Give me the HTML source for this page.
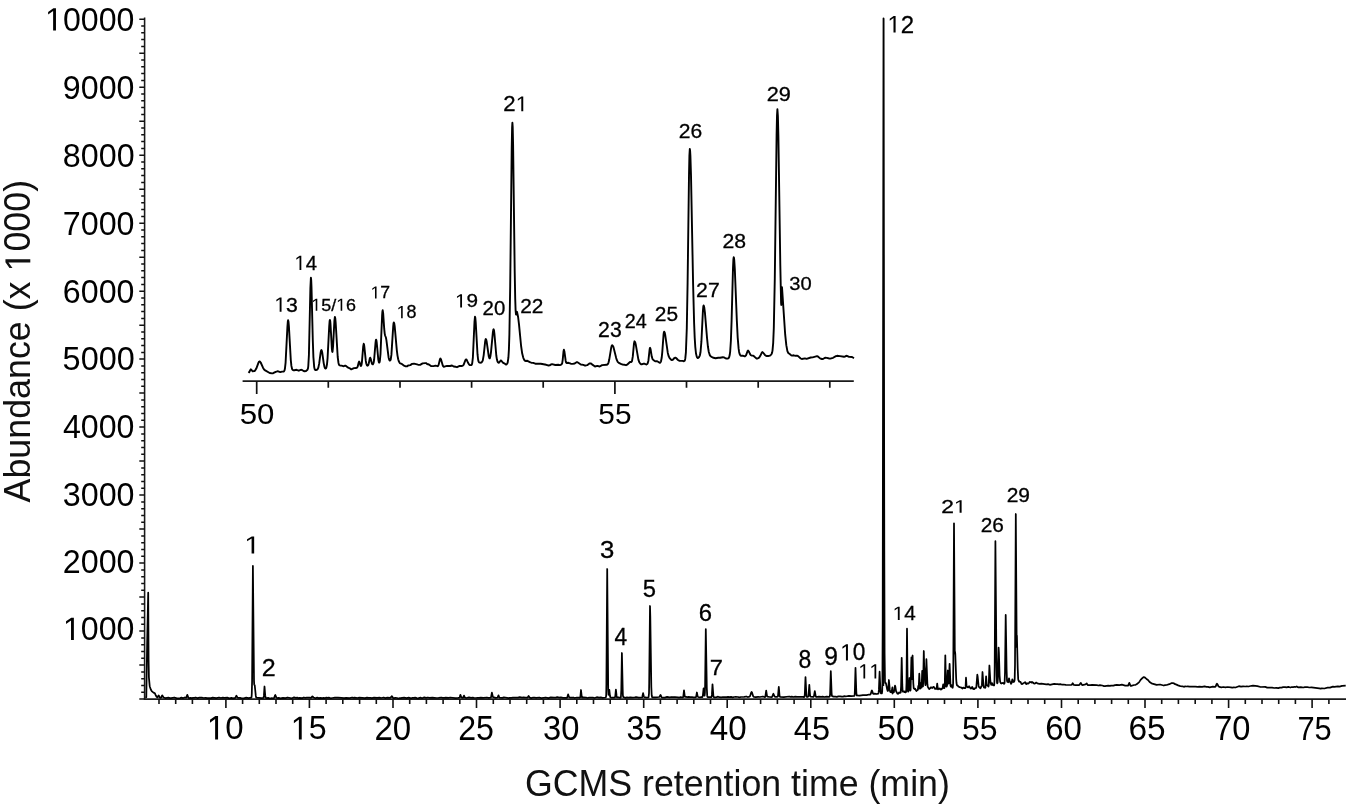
<!DOCTYPE html><html><head><meta charset="utf-8"><style>html,body{margin:0;padding:0;background:#fff;}svg{display:block;will-change:transform;}</style></head><body><svg width="1350" height="806" viewBox="0 0 1350 806">
<rect width="1350" height="806" fill="#fff"/>
<g stroke="#1a1a1a" stroke-width="1.55" fill="none">
<line x1="144.6" y1="17.6" x2="144.6" y2="699.8"/>
<line x1="143.79999999999998" y1="699.1" x2="1346" y2="699.1"/>
</g>
<path d="M139.3,699.0H144.6M141.2,692.3H144.6M141.2,685.5H144.6M141.2,678.7H144.6M141.2,671.9H144.6M139.3,665.1H144.6M141.2,658.3H144.6M141.2,651.5H144.6M141.2,644.7H144.6M141.2,637.9H144.6M139.3,631.1H144.6M141.2,624.3H144.6M141.2,617.5H144.6M141.2,610.7H144.6M141.2,603.9H144.6M139.3,597.1H144.6M141.2,590.3H144.6M141.2,583.5H144.6M141.2,576.7H144.6M141.2,569.9H144.6M139.3,563.1H144.6M141.2,556.3H144.6M141.2,549.5H144.6M141.2,542.7H144.6M141.2,535.9H144.6M139.3,529.1H144.6M141.2,522.3H144.6M141.2,515.5H144.6M141.2,508.7H144.6M141.2,501.9H144.6M139.3,495.1H144.6M141.2,488.3H144.6M141.2,481.5H144.6M141.2,474.7H144.6M141.2,467.9H144.6M139.3,461.1H144.6M141.2,454.3H144.6M141.2,447.5H144.6M141.2,440.7H144.6M141.2,433.9H144.6M139.3,427.1H144.6M141.2,420.3H144.6M141.2,413.5H144.6M141.2,406.7H144.6M141.2,399.9H144.6M139.3,393.1H144.6M141.2,386.3H144.6M141.2,379.5H144.6M141.2,372.7H144.6M141.2,365.9H144.6M139.3,359.1H144.6M141.2,352.4H144.6M141.2,345.6H144.6M141.2,338.8H144.6M141.2,332.0H144.6M139.3,325.2H144.6M141.2,318.4H144.6M141.2,311.6H144.6M141.2,304.8H144.6M141.2,298.0H144.6M139.3,291.2H144.6M141.2,284.4H144.6M141.2,277.6H144.6M141.2,270.8H144.6M141.2,264.0H144.6M139.3,257.2H144.6M141.2,250.4H144.6M141.2,243.6H144.6M141.2,236.8H144.6M141.2,230.0H144.6M139.3,223.2H144.6M141.2,216.4H144.6M141.2,209.6H144.6M141.2,202.8H144.6M141.2,196.0H144.6M139.3,189.2H144.6M141.2,182.4H144.6M141.2,175.6H144.6M141.2,168.8H144.6M141.2,162.0H144.6M139.3,155.2H144.6M141.2,148.4H144.6M141.2,141.6H144.6M141.2,134.8H144.6M141.2,128.0H144.6M139.3,121.2H144.6M141.2,114.4H144.6M141.2,107.6H144.6M141.2,100.8H144.6M141.2,94.0H144.6M139.3,87.2H144.6M141.2,80.4H144.6M141.2,73.6H144.6M141.2,66.8H144.6M141.2,60.0H144.6M139.3,53.2H144.6M141.2,46.4H144.6M141.2,39.6H144.6M141.2,32.8H144.6M141.2,26.0H144.6M139.3,19.2H144.6" stroke="#111" stroke-width="1.5" fill="none"/>
<path d="M159.0,699.1V704.1M175.7,699.1V704.1M192.4,699.1V704.1M209.1,699.1V704.1M225.9,699.1V708.1M242.6,699.1V704.1M259.3,699.1V704.1M276.0,699.1V704.1M292.7,699.1V704.1M309.4,699.1V708.1M326.1,699.1V704.1M342.8,699.1V704.1M359.6,699.1V704.1M376.3,699.1V704.1M393.0,699.1V708.1M409.7,699.1V704.1M426.4,699.1V704.1M443.1,699.1V704.1M459.8,699.1V704.1M476.5,699.1V708.1M493.3,699.1V704.1M510.0,699.1V704.1M526.7,699.1V704.1M543.4,699.1V704.1M560.1,699.1V708.1M576.8,699.1V704.1M593.5,699.1V704.1M610.2,699.1V704.1M626.9,699.1V704.1M643.7,699.1V708.1M660.4,699.1V704.1M677.1,699.1V704.1M693.8,699.1V704.1M710.5,699.1V704.1M727.2,699.1V708.1M743.9,699.1V704.1M760.6,699.1V704.1M777.4,699.1V704.1M794.1,699.1V704.1M810.8,699.1V708.1M827.5,699.1V704.1M844.2,699.1V704.1M860.9,699.1V704.1M877.6,699.1V704.1M894.3,699.1V708.1M911.1,699.1V704.1M927.8,699.1V704.1M944.5,699.1V704.1M961.2,699.1V704.1M977.9,699.1V708.1M994.6,699.1V704.1M1011.3,699.1V704.1M1028.0,699.1V704.1M1044.7,699.1V704.1M1061.5,699.1V708.1M1078.2,699.1V704.1M1094.9,699.1V704.1M1111.6,699.1V704.1M1128.3,699.1V704.1M1145.0,699.1V708.1M1161.7,699.1V704.1M1178.4,699.1V704.1M1195.2,699.1V704.1M1211.9,699.1V704.1M1228.6,699.1V708.1M1245.3,699.1V704.1M1262.0,699.1V704.1M1278.7,699.1V704.1M1295.4,699.1V704.1M1312.1,699.1V708.1M1328.9,699.1V704.1" stroke="#111" stroke-width="1.6" fill="none"/>
<path d="M145.3,697.6 146.3,697.2 147.2,640.0 148.2,592.7 148.6,660.0 148.9,677.3 149.7,686.2 150.8,689.5 151.9,691.4 153.5,692.6 154.9,693.3 155.8,695.5 156.6,696.8 157.5,697.4 158.4,695.7 158.7,695.5 159.8,697.5 160.3,697.8 160.8,697.8 161.3,697.4 162.0,695.7 162.3,695.4 163.6,697.5 165.6,698.1 168.4,697.7 170.1,698.1 171.1,698.2 174.3,697.5 177.1,698.3 180.1,698.1 181.4,697.7 182.9,698.2 184.5,697.5 186.2,697.6 187.3,694.8 188.3,697.6 188.6,698.0 189.1,698.1 190.5,697.9 191.9,698.1 193.1,697.8 194.2,697.8 195.6,697.5 197.7,698.1 199.4,697.7 201.8,697.6 203.7,698.0 205.5,697.8 207.3,698.2 209.8,698.0 211.1,698.1 212.6,697.6 214.5,697.8 216.2,698.1 219.0,697.5 220.8,698.0 222.8,697.6 224.5,697.8 227.3,697.7 229.3,698.3 231.4,697.9 233.1,698.4 235.3,697.8 236.4,695.7 237.4,697.4 238.0,697.8 239.9,697.8 241.3,698.1 243.7,698.3 246.2,697.7 248.6,698.2 251.4,697.7 251.6,696.7 251.8,693.5 252.1,680.8 252.9,565.9 254.0,680.7 254.2,684.4 254.3,684.9 254.7,685.2 254.8,686.0 255.8,695.9 256.1,697.3 256.6,697.7 261.5,698.1 263.5,697.8 263.9,695.9 264.5,686.5 265.2,695.4 265.6,697.5 265.9,697.9 266.6,698.1 268.2,697.9 269.9,698.5 271.7,698.2 273.1,698.3 273.8,698.1 274.3,697.5 275.0,695.4 275.3,695.0 276.2,697.2 276.9,698.0 277.5,698.2 278.8,697.9 280.3,698.3 283.0,697.8 285.5,698.2 287.5,697.5 291.9,698.3 294.1,697.4 295.7,697.8 297.2,697.7 298.4,698.1 299.7,697.9 302.3,698.1 303.8,697.5 305.3,697.9 306.8,697.7 309.5,697.7 310.7,697.9 311.2,697.7 312.4,696.4 313.6,697.5 315.5,698.3 317.2,697.6 318.7,698.1 320.3,697.8 322.2,698.1 323.6,697.9 324.8,698.2 326.3,697.6 327.6,697.8 328.8,697.6 330.6,698.3 332.2,698.0 334.9,697.7 338.0,697.6 341.5,697.8 344.1,698.2 346.1,697.8 349.6,698.1 352.1,697.5 353.4,697.8 354.6,697.6 357.4,698.0 359.2,697.7 365.1,698.2 367.0,697.6 368.5,697.9 370.5,697.8 371.9,698.1 374.1,697.6 377.1,697.9 379.5,697.7 381.2,698.0 383.7,697.5 385.4,698.1 387.3,697.7 390.2,697.9 390.7,697.6 391.7,696.2 392.1,696.4 392.9,697.8 393.4,698.1 393.9,698.2 395.5,697.8 397.0,698.0 398.4,698.5 399.8,698.1 400.9,698.1 402.1,697.8 404.1,697.7 406.6,698.2 408.7,697.7 411.1,698.4 412.7,697.8 414.1,697.9 415.1,697.7 416.8,698.2 418.0,698.3 420.5,697.6 422.1,698.2 424.3,697.4 426.0,697.8 427.8,697.5 429.6,697.9 432.4,697.6 436.6,698.0 438.6,697.9 441.1,697.5 442.7,697.9 444.2,697.9 445.8,697.7 448.6,697.8 450.2,697.5 455.4,698.1 457.8,698.0 459.4,697.7 459.7,697.1 460.4,694.8 461.3,697.3 462.9,697.8 463.3,697.5 464.0,695.6 464.9,697.7 466.4,698.0 469.0,697.4 471.1,697.8 472.6,697.6 474.0,697.9 476.0,698.0 477.4,697.8 479.0,697.8 480.8,697.6 483.2,697.9 486.9,697.5 488.5,697.8 490.7,697.6 491.0,697.3 491.9,692.6 492.9,697.0 495.7,697.9 497.6,697.5 498.5,695.3 499.2,697.2 499.6,697.6 502.4,697.9 503.9,697.4 505.4,697.5 508.4,698.2 509.8,697.8 511.4,697.9 513.0,697.6 518.0,697.7 519.7,697.2 522.0,697.7 523.6,697.4 525.3,697.7 527.2,697.7 527.7,697.4 528.6,696.0 529.8,697.7 531.2,698.1 533.2,697.5 534.5,697.5 536.0,697.8 539.2,697.5 541.3,698.1 545.7,697.5 548.4,698.1 550.8,697.4 554.1,697.6 555.8,697.6 557.2,697.2 559.2,697.7 560.9,697.3 562.9,697.8 566.7,697.8 567.1,697.7 567.3,697.3 568.1,694.4 568.9,696.7 569.3,697.3 570.5,697.7 573.4,697.5 574.7,698.0 576.8,697.5 578.5,697.5 579.8,697.8 580.1,697.6 580.4,696.5 581.0,690.0 581.7,696.4 582.1,697.6 583.3,697.4 586.1,697.6 587.6,698.0 589.0,697.7 592.9,697.6 594.6,698.0 596.8,697.2 599.0,697.7 600.8,697.4 602.6,697.9 605.7,697.5 606.0,696.8 606.2,694.8 606.4,683.7 607.2,569.0 608.2,689.7 608.5,694.7 608.5,694.8 608.6,694.6 609.1,690.4 609.3,689.9 610.0,696.0 610.2,697.0 610.6,697.3 611.5,697.6 614.0,697.7 614.9,697.5 615.3,696.1 615.9,689.6 616.6,695.9 616.9,697.2 617.2,697.4 618.6,697.4 620.3,697.8 620.7,697.7 620.9,697.2 621.3,689.7 621.9,653.0 622.7,689.6 622.9,695.3 623.2,697.0 623.5,697.2 625.5,697.8 626.9,697.4 628.2,697.6 630.4,697.3 632.4,697.7 634.8,697.4 636.1,697.1 638.8,697.6 641.8,697.4 642.1,697.3 642.3,696.8 643.1,693.1 643.8,696.3 644.2,697.1 646.6,697.6 648.1,697.5 648.6,697.2 649.0,693.4 649.2,682.6 650.0,606.0 650.3,616.6 651.3,686.7 651.7,695.2 652.0,696.9 652.4,697.4 653.9,697.3 655.2,697.4 659.1,697.0 659.6,696.6 660.5,694.9 660.8,695.3 661.5,697.2 662.1,697.7 664.8,697.6 667.1,696.9 669.5,697.4 671.5,697.0 673.5,697.2 675.0,697.0 678.0,697.3 679.1,697.6 680.7,697.2 682.8,697.5 683.1,697.2 683.3,696.5 684.0,690.4 684.7,695.9 685.1,696.9 685.9,696.9 687.3,697.2 688.8,696.9 690.1,697.1 692.0,697.0 693.4,697.3 695.8,697.3 696.2,696.5 696.9,692.5 697.6,696.1 698.0,697.0 699.9,697.3 701.3,697.0 702.2,697.1 702.5,696.8 702.8,695.8 703.6,688.4 704.4,694.9 704.6,695.7 704.9,693.0 705.1,685.5 705.8,629.2 706.8,688.0 707.2,695.4 707.4,696.8 707.8,697.2 711.2,697.2 711.6,696.9 711.9,694.9 712.5,684.4 713.4,696.1 713.8,697.1 714.7,697.4 716.6,697.2 718.1,696.7 719.4,697.2 721.1,697.3 722.8,697.0 726.6,697.1 728.0,696.9 729.8,697.2 731.1,696.9 732.6,697.3 734.1,697.0 735.7,696.9 738.0,697.0 739.3,697.3 740.9,697.0 744.2,696.9 746.3,696.5 747.7,697.0 748.2,697.0 749.5,696.7 750.0,696.2 751.3,692.4 751.6,691.9 752.0,692.5 753.1,696.1 753.9,697.0 755.8,697.2 758.2,696.9 759.9,697.0 762.9,696.5 764.9,697.1 765.2,696.9 765.4,696.2 766.2,690.7 767.0,695.8 767.4,696.7 769.6,697.0 771.9,697.1 772.3,696.5 773.1,694.2 773.4,693.8 774.7,696.6 775.6,696.8 777.0,696.8 777.7,696.6 778.0,695.9 778.8,686.8 779.5,695.1 779.7,696.3 780.0,696.8 783.8,697.1 789.1,696.5 790.4,696.8 791.8,696.6 793.3,697.0 795.2,696.6 797.1,696.9 802.8,696.8 804.2,697.2 804.5,696.6 804.8,694.3 805.5,677.1 806.3,693.5 806.5,696.1 806.8,696.9 807.2,697.0 808.1,696.6 808.5,696.0 809.3,684.9 810.0,694.5 810.2,696.0 810.5,696.6 813.3,696.9 813.7,696.7 814.0,695.8 814.8,691.2 815.7,696.1 816.2,697.0 818.9,696.6 821.2,696.8 822.7,696.6 824.2,697.0 826.5,696.7 829.0,696.9 829.5,696.7 829.8,696.4 830.1,694.0 830.8,671.2 831.6,692.7 831.8,695.2 832.1,696.2 833.6,696.7 835.3,696.6 836.8,696.8 838.4,696.3 840.2,696.3 841.8,696.7 843.1,696.6 844.4,696.2 845.5,696.3 847.4,696.2 849.1,695.8 851.2,696.1 854.2,695.9 854.6,695.3 854.8,692.2 855.5,667.9 856.3,691.6 856.5,694.3 856.8,695.4 859.6,695.6 863.0,695.1 866.6,695.2 869.0,694.5 870.3,694.5 870.8,693.8 871.6,691.0 871.9,690.5 872.2,690.9 872.9,693.3 873.4,693.9 874.8,693.7 876.8,694.0 878.3,693.6 878.6,692.7 878.9,689.9 879.6,671.7 880.5,691.7 880.9,693.2 881.2,693.4 881.9,693.3 882.2,691.3 882.4,682.9 882.7,619.5 883.5,18.3 884.3,550.7 884.6,653.5 885.0,682.1 885.2,683.0 885.6,682.8 886.0,683.5 887.1,689.1 887.7,690.9 887.8,691.0 888.0,690.8 888.2,689.6 888.9,680.0 889.8,689.9 890.1,691.5 890.4,692.1 891.1,692.1 891.6,691.6 892.4,687.3 892.5,693.5 893.0,691.1 893.4,692.4 893.9,692.2 895.0,685.7 895.3,686.3 896.1,691.3 897.4,693.6 897.9,693.8 898.2,693.7 899.2,692.4 899.9,692.9 900.7,692.5 901.1,685.9 901.7,657.8 902.3,684.9 902.6,690.9 902.9,691.7 903.7,691.4 904.2,692.0 904.8,691.4 905.5,692.4 905.9,692.2 906.2,691.6 906.5,683.0 907.0,628.7 907.6,681.5 907.8,689.5 908.1,691.6 908.3,691.5 908.5,691.1 908.8,689.6 909.5,678.0 910.2,689.4 910.4,690.6 910.6,689.8 911.4,657.5 912.0,679.2 912.6,655.5 913.3,683.1 913.7,688.3 914.6,689.0 915.0,688.6 915.1,688.6 915.7,690.0 916.4,691.0 916.5,691.0 917.1,690.2 917.6,690.2 917.8,690.0 918.3,685.8 918.7,688.7 919.3,673.7 920.0,688.0 920.2,688.6 920.4,688.2 920.8,683.2 921.2,687.1 921.5,687.7 921.7,685.3 922.2,670.8 922.7,684.2 923.0,686.5 923.2,681.5 923.8,651.0 924.2,666.7 924.6,671.2 925.1,682.8 925.4,685.2 925.6,684.4 925.8,681.6 926.4,659.2 927.4,684.2 927.7,686.7 928.8,688.7 929.4,689.1 929.7,688.5 930.2,688.2 930.8,687.3 931.1,687.3 932.0,687.9 932.5,688.0 933.1,687.0 933.7,686.8 934.5,687.8 935.0,688.9 935.6,688.9 936.1,688.5 936.6,688.9 937.2,683.7 937.8,688.5 938.0,689.3 938.8,688.7 939.5,688.8 939.9,688.5 940.3,689.2 941.1,689.6 941.7,688.7 942.3,688.7 942.6,688.0 943.2,684.3 943.9,687.6 944.1,688.2 944.4,688.2 944.8,683.9 945.3,655.3 945.9,680.8 946.2,686.0 946.3,686.5 946.7,686.5 947.1,685.2 947.8,670.5 948.5,682.5 948.7,683.6 948.8,683.4 949.6,663.8 950.5,685.6 950.8,686.6 951.4,685.1 951.8,686.6 952.5,687.8 952.7,687.7 952.9,686.3 953.1,683.4 953.3,666.1 954.0,523.3 954.8,651.5 954.9,653.8 955.1,651.9 955.3,654.2 956.2,679.1 956.5,683.0 956.9,685.2 957.1,685.4 957.5,685.3 958.2,686.4 958.9,686.7 959.4,687.2 960.7,687.3 962.5,688.5 963.2,687.6 964.0,688.1 964.7,688.0 965.2,688.1 965.5,687.8 965.6,686.9 966.0,677.7 966.6,686.7 967.1,686.6 967.6,687.2 968.1,687.4 968.6,687.1 969.1,686.2 970.0,687.8 970.6,688.1 971.0,688.6 971.5,688.3 972.0,687.1 972.2,687.0 973.3,689.1 973.8,688.7 974.4,689.1 975.0,688.2 976.1,687.9 976.3,687.3 977.3,674.7 977.6,676.2 978.6,685.9 978.8,686.7 979.5,687.5 980.5,688.3 981.4,686.1 981.8,686.1 981.9,685.4 982.5,672.0 983.4,684.6 983.9,687.3 984.2,687.6 984.8,687.2 985.2,687.8 985.5,687.3 986.1,676.4 986.7,684.2 987.2,685.5 987.8,685.7 988.4,686.6 988.7,685.7 988.8,683.6 989.4,665.5 990.3,680.0 990.7,683.3 991.2,684.8 992.0,683.1 992.9,685.2 994.0,685.5 994.2,685.3 994.5,680.1 994.7,665.9 995.4,541.2 996.4,656.9 996.7,675.6 997.0,682.5 997.2,683.3 997.6,682.7 997.9,678.8 998.6,647.6 998.9,652.4 999.6,675.6 1000.1,681.5 1000.5,682.6 1000.9,683.2 1001.4,683.5 1003.1,682.8 1003.8,683.7 1004.2,683.8 1004.4,683.5 1004.6,682.8 1005.0,672.2 1005.7,614.9 1006.6,669.5 1007.0,680.7 1007.3,681.8 1007.8,681.8 1008.2,682.2 1008.3,682.1 1009.0,678.3 1009.7,681.5 1010.2,681.9 1011.1,683.8 1011.6,682.8 1012.3,679.3 1013.2,681.9 1013.7,682.0 1014.1,681.8 1014.5,680.7 1014.7,678.6 1015.0,665.0 1015.8,514.0 1016.7,647.0 1016.9,635.6 1017.7,668.2 1018.2,679.1 1018.4,680.1 1019.1,681.6 1019.2,681.7 1019.6,681.5 1020.0,681.9 1020.5,681.8 1021.5,684.0 1022.3,683.7 1022.6,684.0 1023.6,683.0 1024.1,682.9 1025.1,682.1 1025.9,683.7 1026.3,684.1 1027.1,683.2 1028.2,683.7 1028.9,683.1 1029.7,681.9 1030.4,682.0 1031.4,682.6 1032.0,681.9 1032.6,682.6 1033.3,682.7 1033.7,683.4 1034.6,683.6 1035.0,683.5 1035.8,682.8 1036.2,682.6 1037.3,683.3 1039.5,683.9 1041.3,683.7 1046.3,684.4 1048.1,684.1 1049.8,684.8 1054.2,683.8 1056.0,684.2 1057.6,684.1 1058.9,684.4 1060.3,684.1 1061.6,684.5 1063.6,684.5 1065.8,684.9 1071.0,685.0 1071.8,684.7 1072.7,683.2 1073.9,684.9 1075.4,685.1 1076.6,685.0 1078.1,685.2 1079.5,684.8 1080.7,682.9 1081.0,683.2 1081.8,684.7 1082.4,685.1 1085.5,684.4 1086.7,683.4 1087.7,684.9 1088.2,685.2 1090.3,685.2 1092.1,684.8 1096.9,685.2 1098.3,685.5 1099.9,685.2 1102.3,685.5 1104.0,686.1 1105.0,686.2 1108.2,685.6 1109.9,685.9 1111.1,685.6 1113.4,685.6 1115.0,685.1 1116.8,684.9 1119.5,685.2 1121.9,684.7 1125.2,685.6 1127.5,685.7 1128.0,685.6 1128.3,685.2 1129.3,682.8 1130.3,685.4 1130.7,685.8 1131.1,685.9 1134.1,685.0 1135.6,684.8 1136.6,684.3 1139.0,682.4 1140.6,679.9 1142.6,677.8 1143.2,677.3 1143.8,677.1 1145.1,677.6 1146.5,679.0 1148.0,680.0 1149.6,682.0 1151.5,683.3 1156.6,684.9 1160.0,684.5 1163.7,685.5 1165.0,685.1 1166.7,685.0 1169.3,684.2 1171.3,683.2 1173.0,683.1 1173.8,683.3 1175.1,684.2 1176.5,684.6 1178.1,685.4 1180.3,686.1 1182.4,686.3 1183.8,686.8 1185.2,686.4 1186.5,686.5 1187.6,686.4 1189.7,686.7 1191.8,686.5 1193.4,686.7 1195.2,686.6 1197.9,686.8 1199.3,686.6 1202.1,686.9 1204.6,686.3 1206.4,686.8 1208.0,686.8 1209.7,687.3 1212.8,686.7 1215.1,686.9 1215.7,686.3 1216.6,684.1 1216.9,683.7 1217.4,684.1 1218.5,686.4 1219.2,686.9 1221.4,687.3 1223.3,687.0 1225.4,687.3 1227.6,687.0 1230.8,687.3 1232.2,687.6 1233.9,687.4 1235.5,687.5 1238.9,686.2 1241.0,686.7 1243.1,686.3 1245.3,686.5 1246.8,686.3 1248.5,686.5 1250.5,686.0 1253.0,685.6 1257.4,686.1 1260.6,687.0 1265.2,686.9 1267.2,687.6 1272.1,687.6 1274.1,688.0 1276.3,687.8 1278.3,688.1 1279.8,687.7 1281.5,687.6 1283.1,687.2 1285.1,687.1 1286.7,687.4 1288.3,686.9 1290.4,687.5 1292.0,687.0 1293.2,687.1 1294.5,686.9 1295.6,687.0 1296.7,686.4 1297.8,687.2 1298.4,687.4 1300.8,687.1 1303.2,687.5 1304.9,687.2 1307.3,687.2 1309.5,687.5 1311.5,687.3 1319.3,688.3 1320.6,688.6 1321.8,688.3 1324.4,688.5 1327.6,687.7 1330.0,687.6 1332.9,686.6 1334.4,686.9 1337.8,686.3 1339.5,686.7 1342.1,685.9 1345.7,685.7" stroke="#000" stroke-width="1.75" fill="none" stroke-linejoin="round"/>
<line x1="883.6" y1="18.4" x2="883.6" y2="686" stroke="#000" stroke-width="1.2"/>
<line x1="242.6" y1="381.1" x2="853.8" y2="381.1" stroke="#1a1a1a" stroke-width="1.6"/>
<path d="M256.7,381.1V393.9M328.3,381.1V387.8M400.0,381.1V387.8M471.6,381.1V387.8M543.2,381.1V387.8M614.9,381.1V393.9M686.5,381.1V387.8M758.2,381.1V387.8M829.8,381.1V387.8" stroke="#111" stroke-width="1.7" fill="none"/>
<path d="M248.5,372.9 249.3,372.0 250.4,369.8 250.8,369.3 251.2,369.5 252.1,370.8 252.6,371.2 254.2,371.1 255.1,370.6 256.3,368.6 258.6,362.4 259.1,361.6 259.5,361.5 260.1,361.7 260.7,362.5 263.0,367.7 264.1,369.5 265.2,370.4 269.7,373.0 272.0,373.4 273.1,373.2 275.7,371.8 277.4,371.3 278.1,371.3 280.3,372.1 282.1,371.6 283.5,371.6 284.1,371.2 284.5,370.4 284.9,368.8 285.6,362.6 287.4,327.1 287.8,321.7 288.1,320.3 288.5,321.8 288.9,326.4 290.8,360.1 291.4,365.9 292.1,369.0 292.6,369.9 293.3,370.2 294.3,370.2 296.5,369.8 298.8,370.7 300.7,369.9 301.4,369.8 302.0,370.0 303.6,371.0 304.6,371.2 306.0,371.0 307.5,369.8 308.0,368.3 308.3,366.0 308.9,355.3 310.4,287.7 310.9,277.7 311.2,280.1 311.5,287.4 312.8,340.3 313.4,357.1 314.2,367.1 314.7,369.2 315.4,370.1 316.4,370.0 317.2,369.6 317.9,368.7 318.4,367.4 319.2,363.4 320.7,352.2 321.1,350.5 321.4,350.1 321.8,350.7 322.2,352.4 323.7,363.1 324.5,367.0 325.0,368.2 325.5,368.6 326.0,368.3 326.4,367.4 327.0,364.3 327.6,357.8 329.2,326.6 329.6,321.3 329.9,319.9 330.2,320.9 330.5,324.2 331.9,349.1 332.2,351.5 332.4,351.9 332.5,351.8 333.1,345.9 334.4,320.7 334.9,317.0 335.3,318.6 335.7,323.2 337.7,357.0 338.5,363.0 338.9,364.4 339.4,365.2 340.0,365.5 341.5,365.6 343.2,366.2 343.9,366.1 345.0,365.7 345.7,365.8 348.2,367.7 349.8,368.3 351.0,369.2 351.7,369.2 354.0,368.1 356.3,368.0 357.1,367.6 357.7,366.5 358.7,362.4 359.1,361.6 359.5,362.1 360.5,365.6 360.8,366.0 361.0,366.0 361.5,364.8 361.9,362.3 363.2,346.5 363.7,343.8 364.0,344.4 364.3,346.3 365.8,360.9 366.2,363.2 366.7,364.8 367.1,365.5 367.5,365.7 367.9,365.5 368.3,364.9 368.8,363.3 369.8,358.5 370.2,357.7 370.6,358.4 371.9,363.6 372.4,364.3 372.9,364.3 373.6,362.9 374.1,360.0 375.5,343.2 375.8,340.6 376.1,339.6 376.4,340.3 376.7,342.4 378.3,359.5 378.8,362.0 379.1,362.6 379.3,362.6 379.6,362.0 379.9,360.5 380.5,353.9 382.1,315.9 382.4,311.6 382.7,310.3 383.2,313.7 384.2,328.7 384.7,333.6 385.1,335.5 385.9,337.5 386.4,340.1 388.6,357.4 389.2,359.7 389.8,360.6 390.3,360.4 390.7,359.5 391.4,354.9 393.2,326.6 393.5,323.6 393.8,322.5 394.2,323.2 394.7,326.4 396.8,350.1 397.5,355.6 398.2,359.3 398.8,361.2 399.7,362.9 400.2,363.3 401.8,363.9 404.5,365.9 405.6,366.3 407.0,366.4 408.1,365.5 410.3,365.1 412.1,363.9 414.0,363.7 418.0,364.7 420.1,364.9 422.6,363.4 425.3,363.1 426.0,363.1 427.1,364.0 428.9,364.5 431.0,366.1 433.6,366.1 435.5,365.6 437.6,366.2 438.1,365.9 438.6,364.9 439.9,359.5 440.4,358.5 440.7,358.8 441.1,359.7 442.7,365.3 443.2,366.2 443.8,366.7 444.3,366.7 447.0,365.9 450.1,366.0 452.0,365.5 453.7,366.5 455.7,366.8 457.0,367.2 459.7,365.9 461.5,366.0 462.3,365.9 463.0,365.5 463.7,364.6 465.4,360.1 466.0,359.4 466.3,359.4 466.7,359.9 468.2,363.1 469.1,364.5 470.0,365.1 471.3,365.1 471.8,364.6 472.2,363.3 472.9,357.3 474.5,321.5 475.0,316.7 475.3,317.7 475.7,322.1 477.5,354.2 478.1,359.5 478.5,361.3 478.9,362.1 479.7,362.6 480.7,362.7 481.4,362.5 482.2,361.7 482.8,360.3 483.7,355.1 485.2,341.2 485.5,339.6 485.8,339.0 486.2,339.6 486.7,341.8 488.8,356.5 489.4,358.3 489.7,358.4 489.9,358.1 490.4,356.3 491.0,352.1 492.9,332.1 493.3,329.8 493.6,329.3 494.0,330.4 494.4,333.5 496.3,355.5 496.9,359.3 497.5,361.5 498.1,362.5 498.8,362.8 499.4,362.3 500.5,360.7 501.0,360.5 501.4,360.7 502.9,362.7 504.2,363.3 505.9,364.6 506.7,364.3 507.3,363.5 507.7,362.4 508.4,357.7 508.9,349.6 509.4,334.1 510.2,286.3 511.7,149.0 512.1,127.8 512.4,122.8 512.7,127.1 513.1,144.7 514.7,271.6 515.2,298.5 515.6,310.3 516.0,314.5 516.2,314.6 517.0,311.8 518.1,317.0 519.0,324.4 521.1,346.0 522.2,353.6 523.3,357.8 524.1,359.6 524.8,360.6 525.5,361.0 527.4,360.8 530.4,362.4 531.4,362.7 533.2,362.9 535.3,363.7 540.8,363.8 546.2,364.8 548.7,365.5 549.6,365.4 551.2,364.4 552.0,364.2 555.3,365.0 558.3,364.8 560.0,365.1 560.5,364.9 561.6,364.4 562.2,363.1 562.7,359.8 563.5,351.5 563.9,349.7 564.4,351.4 565.7,361.0 566.1,362.4 566.5,363.0 568.5,362.8 570.8,363.7 572.8,363.9 574.7,363.5 576.5,362.3 577.2,362.2 577.9,362.5 580.8,364.5 583.3,364.9 585.1,365.7 587.2,365.2 589.4,363.5 590.4,363.4 591.0,363.5 592.0,364.4 595.0,366.5 597.3,365.9 599.7,366.5 602.1,365.1 606.6,364.8 607.4,364.5 608.0,363.8 608.6,362.3 609.2,359.8 611.3,347.2 611.8,345.6 612.2,345.3 612.9,345.9 613.5,347.2 616.2,358.1 616.9,360.2 617.7,361.8 618.8,362.9 621.4,364.1 622.7,364.5 624.6,364.8 626.0,365.2 627.6,364.3 630.0,362.0 631.4,362.1 632.0,361.1 632.8,356.4 634.0,343.4 634.5,341.3 635.1,342.0 635.7,344.2 638.4,359.6 639.3,362.3 640.4,363.8 641.0,364.2 641.7,364.3 643.6,363.6 644.3,363.6 646.2,364.5 647.0,364.2 647.6,363.6 648.4,360.7 649.6,349.6 649.9,348.0 650.1,347.8 650.6,349.3 651.8,356.8 652.6,359.2 653.7,360.3 654.8,361.1 655.5,361.3 657.2,361.3 659.2,362.5 660.0,362.8 660.6,362.2 661.0,361.3 661.7,357.8 662.3,351.9 663.5,335.2 663.8,332.7 664.1,331.7 664.6,332.3 665.2,334.8 667.8,352.9 668.6,356.0 669.5,357.8 671.0,359.6 671.9,360.1 672.7,359.9 674.4,358.0 675.3,357.6 676.1,358.0 678.0,360.0 679.2,360.7 680.4,360.9 682.5,360.9 683.9,361.2 684.6,360.8 685.0,359.9 685.3,358.4 685.9,352.3 686.8,328.2 687.6,283.0 689.0,175.3 689.4,155.9 689.8,149.0 690.1,150.7 690.4,155.9 691.0,175.3 693.1,284.1 694.1,322.8 694.7,337.6 695.3,347.1 696.0,353.5 696.8,356.9 697.2,357.6 697.7,358.0 698.3,357.8 699.1,357.0 699.9,355.3 700.5,352.3 701.4,341.7 702.9,311.4 703.3,306.6 703.6,305.5 703.9,306.0 704.2,307.2 704.9,312.4 707.0,337.7 707.9,346.5 708.8,352.0 709.8,355.1 710.6,356.3 711.6,356.9 713.5,357.8 715.6,358.2 718.2,357.8 720.1,357.8 722.9,357.2 723.9,357.4 725.9,358.5 727.5,358.6 728.0,358.5 728.5,358.2 729.2,357.0 729.7,355.1 730.2,351.3 730.9,340.5 731.6,320.6 733.0,268.1 733.4,259.5 733.7,257.3 733.9,257.6 734.2,259.6 734.8,268.7 736.8,319.8 737.7,337.6 738.6,348.4 739.1,351.9 739.7,354.2 740.2,355.2 740.9,355.7 742.8,355.7 744.5,356.3 745.2,356.2 746.0,355.3 747.5,351.3 747.8,350.8 748.1,350.6 748.8,351.3 750.2,354.3 750.9,355.2 751.5,355.5 753.0,355.6 753.4,355.8 756.0,358.1 757.0,358.7 758.3,358.2 759.4,357.2 760.3,355.8 761.7,352.8 762.3,352.1 763.0,352.5 764.9,354.9 766.0,355.8 766.8,356.0 768.2,356.0 769.9,355.6 770.8,355.0 771.6,354.0 772.1,352.6 772.5,350.6 773.2,342.8 773.8,328.3 774.8,278.2 776.6,134.9 777.0,115.9 777.4,109.2 777.9,116.4 778.4,136.7 780.3,264.9 781.1,303.0 781.3,305.0 781.4,304.0 782.0,287.2 785.2,334.7 786.3,345.2 787.4,351.1 788.3,353.0 790.0,354.2 791.3,355.4 792.0,355.6 793.7,355.3 795.6,355.8 797.4,355.7 798.1,356.1 800.7,358.5 801.8,359.0 804.9,358.4 806.6,358.9 810.7,357.5 812.7,357.4 817.0,356.2 817.9,356.5 820.1,358.4 821.8,359.0 823.0,359.0 824.6,358.0 825.6,357.8 826.8,357.9 829.3,358.5 830.2,358.6 833.1,357.8 835.9,356.1 837.1,355.8 840.0,356.1 844.0,356.8 844.9,356.6 846.2,355.9 846.9,355.8 849.1,356.9 852.1,357.0 854.0,358.2" stroke="#000" stroke-width="1.9" fill="none" stroke-linejoin="round"/>
<g font-family='"Liberation Sans", sans-serif'>
<g stroke="#000" stroke-width="0.3" transform="translate(244.26,553.60) scale(1.1756,1)"><text font-size="24.79" fill="#000"> </text><path transform="translate(0.00,0) scale(0.01211,-0.01211)" d="M515,0V1237L197,1010V1180L530,1409H696V0Z" fill="#000"/></g>
<g stroke="#000" stroke-width="0.3" transform="translate(261.84,675.86) scale(1.0113,1)"><text font-size="24.79" fill="#000">2</text></g>
<g stroke="#000" stroke-width="0.3" transform="translate(599.99,557.50) scale(1.0806,1)"><text font-size="23.78" fill="#000">3</text></g>
<g stroke="#000" stroke-width="0.3" transform="translate(614.51,645.35) scale(0.9794,1)"><text font-size="23.26" fill="#000">4</text></g>
<g stroke="#000" stroke-width="0.3" transform="translate(642.83,597.44) scale(0.9938,1)"><text font-size="23.94" fill="#000">5</text></g>
<g stroke="#000" stroke-width="0.3" transform="translate(698.76,620.81) scale(0.9798,1)"><text font-size="24.37" fill="#000">6</text></g>
<g stroke="#000" stroke-width="0.3" transform="translate(709.78,675.32) scale(1.0338,1)"><text font-size="22.93" fill="#000">7</text></g>
<g stroke="#000" stroke-width="0.3" transform="translate(798.40,667.72) scale(0.9159,1)"><text font-size="25.08" fill="#000">8</text></g>
<g stroke="#000" stroke-width="0.3" transform="translate(824.34,664.75) scale(0.9791,1)"><text font-size="25.17" fill="#000">9</text></g>
<g stroke="#000" stroke-width="0.3" transform="translate(840.25,660.43) scale(0.9599,1)"><text font-size="23.60" fill="#000"> 0</text><path transform="translate(0.00,0) scale(0.01152,-0.01152)" d="M515,0V1237L197,1010V1180L530,1409H696V0Z" fill="#000"/></g>
<g stroke="#000" stroke-width="0.3" transform="translate(858.43,678.61) scale(0.9499,1)"><text font-size="20.92" fill="#000">  </text><path transform="translate(0.00,0) scale(0.01022,-0.01022)" d="M515,0V1237L197,1010V1180L530,1409H696V0Z" fill="#000"/><path transform="translate(11.64,0) scale(0.01022,-0.01022)" d="M515,0V1237L197,1010V1180L530,1409H696V0Z" fill="#000"/></g>
<g stroke="#000" stroke-width="0.3" transform="translate(887.44,32.60) scale(0.9948,1)"><text font-size="24.16" fill="#000"> 2</text><path transform="translate(0.00,0) scale(0.01180,-0.01180)" d="M515,0V1237L197,1010V1180L530,1409H696V0Z" fill="#000"/></g>
<g stroke="#000" stroke-width="0.3" transform="translate(892.64,620.08) scale(1.0606,1)"><text font-size="19.50" fill="#000"> 4</text><path transform="translate(0.00,0) scale(0.00952,-0.00952)" d="M515,0V1237L197,1010V1180L530,1409H696V0Z" fill="#000"/></g>
<g stroke="#000" stroke-width="0.3" transform="translate(941.14,512.84) scale(1.2369,1)"><text font-size="18.48" fill="#000">2 </text><path transform="translate(10.28,0) scale(0.00902,-0.00902)" d="M515,0V1237L197,1010V1180L530,1409H696V0Z" fill="#000"/></g>
<g stroke="#000" stroke-width="0.3" transform="translate(980.70,531.65) scale(1.0683,1)"><text font-size="19.53" fill="#000">26</text></g>
<g stroke="#000" stroke-width="0.3" transform="translate(1006.71,502.17) scale(1.0736,1)"><text font-size="19.53" fill="#000">29</text></g>
<g stroke="#000" stroke-width="0.3" transform="translate(274.30,311.70) scale(1.0346,1)"><text font-size="20.57" fill="#000"> 3</text><path transform="translate(0.00,0) scale(0.01005,-0.01005)" d="M515,0V1237L197,1010V1180L530,1409H696V0Z" fill="#000"/></g>
<g stroke="#000" stroke-width="0.3" transform="translate(294.40,270.10) scale(0.9681,1)"><text font-size="21.03" fill="#000"> 4</text><path transform="translate(0.00,0) scale(0.01027,-0.01027)" d="M515,0V1237L197,1010V1180L530,1409H696V0Z" fill="#000"/></g>
<g stroke="#000" stroke-width="0.3" transform="translate(311.20,310.69) scale(1.0430,1)"><text font-size="17.20" fill="#000"> 5/ 6</text><path transform="translate(0.00,0) scale(0.00840,-0.00840)" d="M515,0V1237L197,1010V1180L530,1409H696V0Z" fill="#000"/><path transform="translate(23.91,0) scale(0.00840,-0.00840)" d="M515,0V1237L197,1010V1180L530,1409H696V0Z" fill="#000"/></g>
<g stroke="#000" stroke-width="0.3" transform="translate(370.55,298.42) scale(1.0204,1)"><text font-size="17.31" fill="#000"> 7</text><path transform="translate(0.00,0) scale(0.00845,-0.00845)" d="M515,0V1237L197,1010V1180L530,1409H696V0Z" fill="#000"/></g>
<g stroke="#000" stroke-width="0.3" transform="translate(396.60,318.35) scale(0.9965,1)"><text font-size="18.00" fill="#000"> 8</text><path transform="translate(0.00,0) scale(0.00879,-0.00879)" d="M515,0V1237L197,1010V1180L530,1409H696V0Z" fill="#000"/></g>
<g stroke="#000" stroke-width="0.3" transform="translate(454.98,307.42) scale(1.0886,1)"><text font-size="19.06" fill="#000"> 9</text><path transform="translate(0.00,0) scale(0.00930,-0.00930)" d="M515,0V1237L197,1010V1180L530,1409H696V0Z" fill="#000"/></g>
<g stroke="#000" stroke-width="0.3" transform="translate(482.60,315.39) scale(1.0291,1)"><text font-size="19.84" fill="#000">20</text></g>
<g stroke="#000" stroke-width="0.3" transform="translate(503.36,111.36) scale(1.0289,1)"><text font-size="21.58" fill="#000">2 </text><path transform="translate(12.00,0) scale(0.01054,-0.01054)" d="M515,0V1237L197,1010V1180L530,1409H696V0Z" fill="#000"/></g>
<g stroke="#000" stroke-width="0.3" transform="translate(520.22,312.60) scale(1.0215,1)"><text font-size="20.39" fill="#000">22</text></g>
<g stroke="#000" stroke-width="0.3" transform="translate(598.11,337.40) scale(0.9865,1)"><text font-size="21.49" fill="#000">23</text></g>
<g stroke="#000" stroke-width="0.3" transform="translate(624.84,327.62) scale(0.9902,1)"><text font-size="19.95" fill="#000">24</text></g>
<g stroke="#000" stroke-width="0.3" transform="translate(654.86,320.67) scale(1.0539,1)"><text font-size="19.84" fill="#000">25</text></g>
<g stroke="#000" stroke-width="0.3" transform="translate(678.82,138.41) scale(1.0184,1)"><text font-size="20.68" fill="#000">26</text></g>
<g stroke="#000" stroke-width="0.3" transform="translate(696.09,296.84) scale(1.0248,1)"><text font-size="20.69" fill="#000">27</text></g>
<g stroke="#000" stroke-width="0.3" transform="translate(722.46,247.69) scale(1.0821,1)"><text font-size="19.57" fill="#000">28</text></g>
<g stroke="#000" stroke-width="0.3" transform="translate(766.70,100.93) scale(1.1188,1)"><text font-size="19.39" fill="#000">29</text></g>
<g stroke="#000" stroke-width="0.3" transform="translate(789.18,289.74) scale(1.0556,1)"><text font-size="19.13" fill="#000">30</text></g>
<g transform="translate(239.66,423.62) scale(1.0468,1)"><text font-size="29.80" fill="#000">50</text></g>
<g transform="translate(598.36,423.61) scale(0.9838,1)"><text font-size="30.22" fill="#000">55</text></g>
<g transform="translate(62.95,640.01) scale(0.9885,1)"><text font-size="32.51" fill="#000"> 000</text><path transform="translate(0.00,0) scale(0.01587,-0.01587)" d="M515,0V1237L197,1010V1180L530,1409H696V0Z" fill="#000"/></g>
<g transform="translate(62.81,572.79) scale(0.9856,1)"><text font-size="32.72" fill="#000">2000</text></g>
<g transform="translate(62.76,506.37) scale(0.9852,1)"><text font-size="32.75" fill="#000">3000</text></g>
<g transform="translate(62.89,438.40) scale(0.9850,1)"><text font-size="32.65" fill="#000">4000</text></g>
<g transform="translate(62.62,370.47) scale(0.9919,1)"><text font-size="32.69" fill="#000">5000</text></g>
<g transform="translate(62.87,302.53) scale(0.9828,1)"><text font-size="32.75" fill="#000">6000</text></g>
<g transform="translate(62.82,234.55) scale(0.9880,1)"><text font-size="32.65" fill="#000">7000</text></g>
<g transform="translate(62.81,166.63) scale(0.9845,1)"><text font-size="32.78" fill="#000">8000</text></g>
<g transform="translate(62.85,98.66) scale(0.9835,1)"><text font-size="32.73" fill="#000">9000</text></g>
<g transform="translate(45.04,30.58) scale(0.9905,1)"><text font-size="32.45" fill="#000"> 0000</text><path transform="translate(0.00,0) scale(0.01584,-0.01584)" d="M515,0V1237L197,1010V1180L530,1409H696V0Z" fill="#000"/></g>
<g transform="translate(206.81,739.43) scale(0.9740,1)"><text font-size="33.98" fill="#000"> 0</text><path transform="translate(0.00,0) scale(0.01659,-0.01659)" d="M515,0V1237L197,1010V1180L530,1409H696V0Z" fill="#000"/></g>
<g transform="translate(290.78,739.42) scale(0.9754,1)"><text font-size="33.00" fill="#000"> 5</text><path transform="translate(0.00,0) scale(0.01611,-0.01611)" d="M515,0V1237L197,1010V1180L530,1409H696V0Z" fill="#000"/></g>
<g transform="translate(374.45,739.83) scale(0.9509,1)"><text font-size="34.74" fill="#000">20</text></g>
<g transform="translate(458.20,739.83) scale(0.9281,1)"><text font-size="34.65" fill="#000">25</text></g>
<g transform="translate(543.12,739.86) scale(0.9404,1)"><text font-size="34.75" fill="#000">30</text></g>
<g transform="translate(626.54,739.86) scale(0.9214,1)"><text font-size="34.71" fill="#000">35</text></g>
<g transform="translate(709.73,739.83) scale(0.9591,1)"><text font-size="34.65" fill="#000">40</text></g>
<g transform="translate(793.85,739.82) scale(0.9647,1)"><text font-size="33.69" fill="#000">45</text></g>
<g transform="translate(877.51,739.87) scale(0.9581,1)"><text font-size="34.72" fill="#000">50</text></g>
<g transform="translate(962.01,739.86) scale(0.9475,1)"><text font-size="33.76" fill="#000">55</text></g>
<g transform="translate(1045.13,739.87) scale(0.9498,1)"><text font-size="34.80" fill="#000">60</text></g>
<g transform="translate(1128.52,739.88) scale(0.9631,1)"><text font-size="34.74" fill="#000">65</text></g>
<g transform="translate(1214.23,739.83) scale(0.9408,1)"><text font-size="34.65" fill="#000">70</text></g>
<g transform="translate(1297.43,739.82) scale(0.9165,1)"><text font-size="33.69" fill="#000">75</text></g>
</g>
<text transform="translate(525.0,796.1) scale(0.966,1)" font-family='"Liberation Sans", sans-serif' font-size="37.0" fill="#111">GCMS retention time (min)</text>
<g transform="translate(30.3,502.5) rotate(-90) scale(0.9917,1)" font-family='"Liberation Sans", sans-serif'><text font-size="36.13" fill="#111">Abundance (x  000)</text><path transform="translate(233.02,0) scale(0.01764,-0.01764)" d="M515,0V1237L197,1010V1180L530,1409H696V0Z" fill="#111"/></g>
</svg></body></html>
